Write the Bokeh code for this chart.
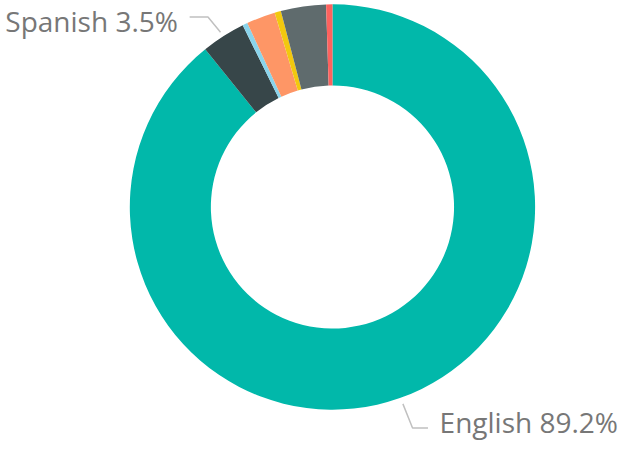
import math
from bokeh.plotting import figure
from bokeh.models import Range1d, ColumnDataSource
from bokeh.embed import file_html
from bokeh.resources import INLINE
from bokeh.core.properties import value

# ---- data ----
languages = ["English", "Spanish", "French", "German", "Portuguese", "Other", "Italian"]
shares = [89.2, 3.5, 0.4, 2.3, 0.5, 3.6, 0.5]
colors = ["#01B8AA", "#374649", "#8AD4EB", "#FE9666", "#F2C80F", "#5F6B6D", "#FD625E"]

# ---- layout (reference pixel coordinates, y measured downward) ----
W, H = 627, 441
s = H / 457.0
cx, cy = 344, 214
r_out, r_in = 210, 126

p = figure(width=W, height=H, output_backend="svg", toolbar_location=None,
           x_range=Range1d(0, W / s), y_range=Range1d(-H / s, 0),
           min_border=0, outline_line_color=None)
p.axis.visible = False
p.grid.visible = False
p.background_fill_color = "white"
p.border_fill_color = "white"

total = sum(shares)
starts, ends = [], []
cum = 0.0
for sh in shares:
    starts.append(math.pi / 2 - 2 * math.pi * (cum + sh) / total)
    ends.append(math.pi / 2 - 2 * math.pi * cum / total)
    cum += sh

src = ColumnDataSource(dict(lang=languages, share=shares, color=colors,
                            start=starts, end=ends))
p.annular_wedge(x=cx, y=-cy, inner_radius=r_in, outer_radius=r_out,
                start_angle="start", end_angle="end", direction="anticlock",
                fill_color="color", line_color=None, source=src)

# leader lines
p.line(x=[196, 215, 228], y=[-17, -17, -33], line_color="#C0C0C0", line_width=1.5)
p.line(x=[417, 427, 443], y=[-418, -443, -443], line_color="#C0C0C0", line_width=1.5)

def lab(name):
    i = languages.index(name)
    return f"{languages[i]} {shares[i]}%"

fs = "28px"
p.text(x=[5], y=[-21], text=[lab("Spanish")], text_align="left",
       text_baseline="alphabetic", text_font=value("Open Sans"),
       text_font_size=fs, text_color="#777777")
p.text(x=[455], y=[-437], text=[lab("English")], text_align="left",
       text_baseline="alphabetic", text_font=value("Open Sans"),
       text_font_size=fs, text_color="#777777")

open("out.html", "w").write(file_html(p, INLINE))
